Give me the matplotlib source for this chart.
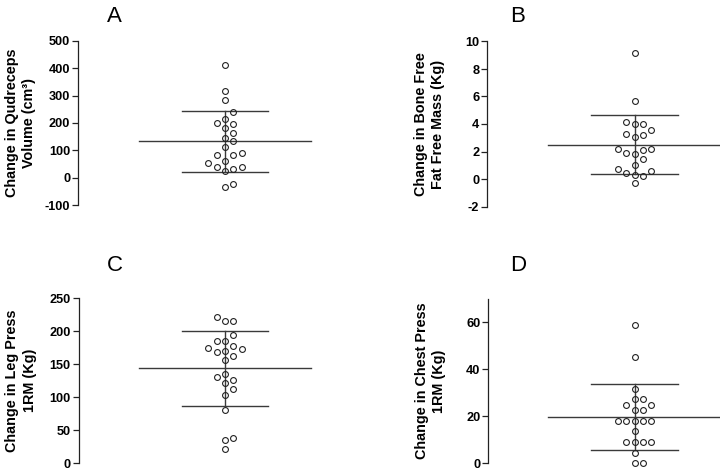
import matplotlib
matplotlib.use("Agg")
import matplotlib.pyplot as plt
import numpy as np

plt.rcParams['font.family'] = ['Liberation Sans', 'DejaVu Sans']
plt.rcParams['axes.unicode_minus'] = False

# ---- data ----
quad_volume = [413, 318, 284, 240, 200, 198, 215, 181, 165, 133, 144, 114,
               84, 84, 89, 60, 54, 40, 31, 26, 40, -22, -34]
quad_mean, quad_sd = 133, 111

ffm = [9.15, 5.70, 3.98, 3.98, 4.15, 3.54, 3.28, 3.04, 3.18, 2.15, 2.10, 2.15,
       1.88, 1.83, 1.42, 1.05, 0.59, 0.72, 0.30, 0.42, 0.25, -0.30]
ffm_mean, ffm_sd = 2.48, 2.15

leg_press = [222, 216, 215, 195, 186, 186, 177, 173, 169, 170, 175, 163, 157,
             136, 131, 126, 122, 113, 104, 81, 38, 36, 22]
leg_mean, leg_sd = 144, 57

chest_press = [59.0, 45.4, 31.8, 27.2, 27.2, 25.0, 25.0, 22.7, 22.7,
               18.2, 18.2, 18.2, 18.2, 18.2, 13.6, 9.1, 9.1, 9.1, 9.1, 4.5, 0, 0]
chest_mean, chest_sd = 19.7, 14.0

panel_letters = ['A', 'B', 'C', 'D']
ylabels = ['Change in Qudreceps\nVolume (cm³)',
           'Change in Bone Free\nFat Free Mass (Kg)',
           'Change in Leg Press\n1RM (Kg)',
           'Change in Chest Press\n1RM (Kg)']
ylims = [(-100, 500), (-2, 10), (0, 250), (0, 70)]
yticks = [[-100, 0, 100, 200, 300, 400, 500],
          [-2, 0, 2, 4, 6, 8, 10],
          [0, 50, 100, 150, 200, 250],
          [0, 20, 40, 60]]

W, H = 724, 472
fig = plt.figure(figsize=(W / 100, H / 100), dpi=100)

line_col = '#3a3a3a'
unit = 8.3  # px per swarm column


def px_rect(left, top, right, bottom):
    return [left / W, (H - bottom) / H, (right - left) / W, (bottom - top) / H]


rects = [px_rect(78, 41, 360, 205), px_rect(487, 41.5, 720, 206.5),
         px_rect(78.5, 298.3, 360, 463.3), px_rect(488, 298.8, 720, 463.3)]
centers_px = [225, 634.5, 225, 634.5]
title_pos = [(114.7, 21.7), (518, 21.7), (114.7, 271), (518, 271)]

datasets = [(quad_volume, quad_mean, quad_sd), (ffm, ffm_mean, ffm_sd),
            (leg_press, leg_mean, leg_sd), (chest_press, chest_mean, chest_sd)]


def swarm(values, px_per_unit, thresh_px=8.0):
    order = np.argsort(values)
    placed = {}
    offs = np.zeros(len(values))
    cand = [0, 1, -1, 2, -2, 3, -3, 4, -4]
    for i in order:
        v = values[i]
        for c in cand:
            ok = all(abs(v - u) * px_per_unit >= thresh_px for u in placed.get(c, []))
            if ok:
                placed.setdefault(c, []).append(v)
                offs[i] = c
                break
    return offs


for k in range(4):
    rect = rects[k]
    ax = fig.add_axes(rect)
    vals, m, sd = datasets[k]
    vals = np.array(vals, dtype=float)
    left_px = rect[0] * W
    right_px = (rect[0] + rect[2]) * W
    cx = centers_px[k]
    ax.set_xlim((left_px - cx) / unit, (right_px - cx) / unit)
    ax.set_ylim(*ylims[k])
    ax_h_px = rect[3] * H
    ppu = ax_h_px / (ylims[k][1] - ylims[k][0])
    offs = swarm(vals, ppu)

    # mean and SD lines
    ax.plot([-10.4, 10.4], [m, m], color=line_col, lw=1.0, zorder=2)
    ax.plot([-5.2, 5.2], [m + sd, m + sd], color=line_col, lw=1.0, zorder=2)
    ax.plot([-5.2, 5.2], [m - sd, m - sd], color=line_col, lw=1.0, zorder=2)
    ax.plot([0, 0], [m - sd, m + sd], color=line_col, lw=1.0, zorder=2)

    ax.plot(offs, vals, linestyle='none', marker='o', markersize=4.2,
            markerfacecolor='none', markeredgecolor='#222222',
            markeredgewidth=0.8, clip_on=False, zorder=3)

    for s in ['top', 'right', 'bottom']:
        ax.spines[s].set_visible(False)
    ax.spines['left'].set_color('#222222')
    ax.spines['left'].set_linewidth(0.9)
    ax.set_xticks([])
    ax.set_yticks(yticks[k])
    ax.tick_params(axis='y', length=4, width=0.9, color='#222222', pad=1.5,
                   labelsize=9.2)
    for lab in ax.get_yticklabels():
        lab.set_fontweight('bold')

    # y label placed in figure pixels
    lx = left_px - 57.5
    ly = (rect[1] + rect[3] / 2) * H
    fig.text(lx / W, ly / H, ylabels[k], rotation=90, fontsize=10.4,
             fontweight='bold', ha='center', va='center',
             multialignment='center', linespacing=1.35)

    tx, ty = title_pos[k]
    fig.text(tx / W, (H - ty) / H, panel_letters[k], fontsize=16,
             ha='center', va='baseline')

fig.savefig('out.png', dpi=100, facecolor='white')
